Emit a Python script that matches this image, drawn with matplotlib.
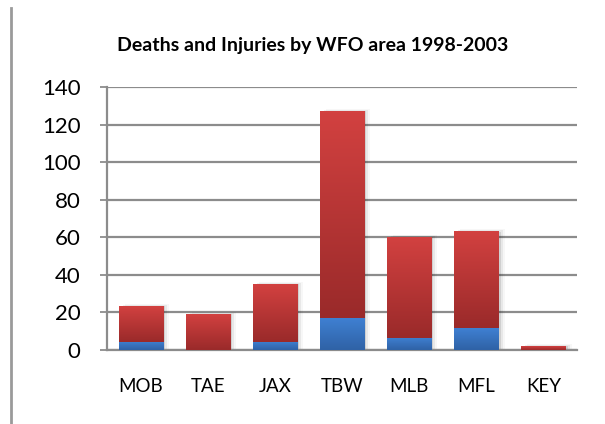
import matplotlib
matplotlib.use("Agg")
import matplotlib.pyplot as plt
import numpy as np
from matplotlib.lines import Line2D

plt.rcParams['font.family'] = ['Lato', 'DejaVu Sans']

areas = ["MOB", "TAE", "JAX", "TBW", "MLB", "MFL", "KEY"]
deaths = [4.5, 0, 4.5, 17, 6.5, 11.5, 0]
injuries = [19, 19, 30.5, 110, 53.5, 51.5, 2]
y_ticks = [0, 20, 40, 60, 80, 100, 120, 140]

bar_w = 0.66


def gradient_bar(ax, x, bottom, height, top_col, bot_col):
    if height <= 0:
        return
    grad = np.linspace(0, 1, 64).reshape(-1, 1)
    c1 = np.array(matplotlib.colors.to_rgb(top_col))
    c2 = np.array(matplotlib.colors.to_rgb(bot_col))
    img = c1 * (1 - grad[..., None]) + c2 * grad[..., None]
    ax.imshow(img, extent=(x - bar_w / 2, x + bar_w / 2, bottom, bottom + height),
              aspect='auto', origin='upper', zorder=3, interpolation='bilinear')


fig = plt.figure(figsize=(6.05, 4.24), dpi=100)
ax = fig.add_axes([0.177, 0.1745, 0.777, 0.6205])

x = np.arange(len(areas))
for i in x:
    total = deaths[i] + injuries[i]
    # soft shadow
    for k, a in enumerate([0.10, 0.06, 0.03]):
        off = 0.03 * (k + 1)
        ax.add_patch(plt.Rectangle((i - bar_w / 2 + off, 0), bar_w, total + 0.6 * (k + 1) - 0.6,
                                   facecolor='#000000', alpha=a, edgecolor='none', zorder=2))
    gradient_bar(ax, i, 0, deaths[i], '#3f80d2', '#2f62a6')
    gradient_bar(ax, i, deaths[i], injuries[i], '#d24140', '#9a2a2a')

ax.set_xlim(-0.5, len(areas) - 0.5)
ax.set_ylim(0, 140)
ax.set_yticks(y_ticks)
ax.set_yticklabels([str(v) for v in y_ticks], fontsize=16)
ax.set_xticks(x)
ax.set_xticklabels(areas, fontsize=13.5)
ax.tick_params(axis='x', length=0, pad=20)
ax.tick_params(axis='y', length=5, width=1.3, color='#8c8c8c', pad=14)
ax.grid(axis='y', color='#8c8c8c', linewidth=1.6, zorder=1)
ax.set_axisbelow(True)
for s in ['top', 'right']:
    ax.spines[s].set_visible(False)
for s in ['left', 'bottom']:
    ax.spines[s].set_color('#8c8c8c')
    ax.spines[s].set_linewidth(1.6)

fig.text(0.517, 0.893, "Deaths and Injuries by WFO area 1998-2003", ha='center', va='center',
         fontsize=14, fontweight='bold')

fig.add_artist(Line2D([0.019, 0.019], [0, 0.981], color='#9a9a9a', linewidth=2))

fig.savefig("out.png", dpi=100)
